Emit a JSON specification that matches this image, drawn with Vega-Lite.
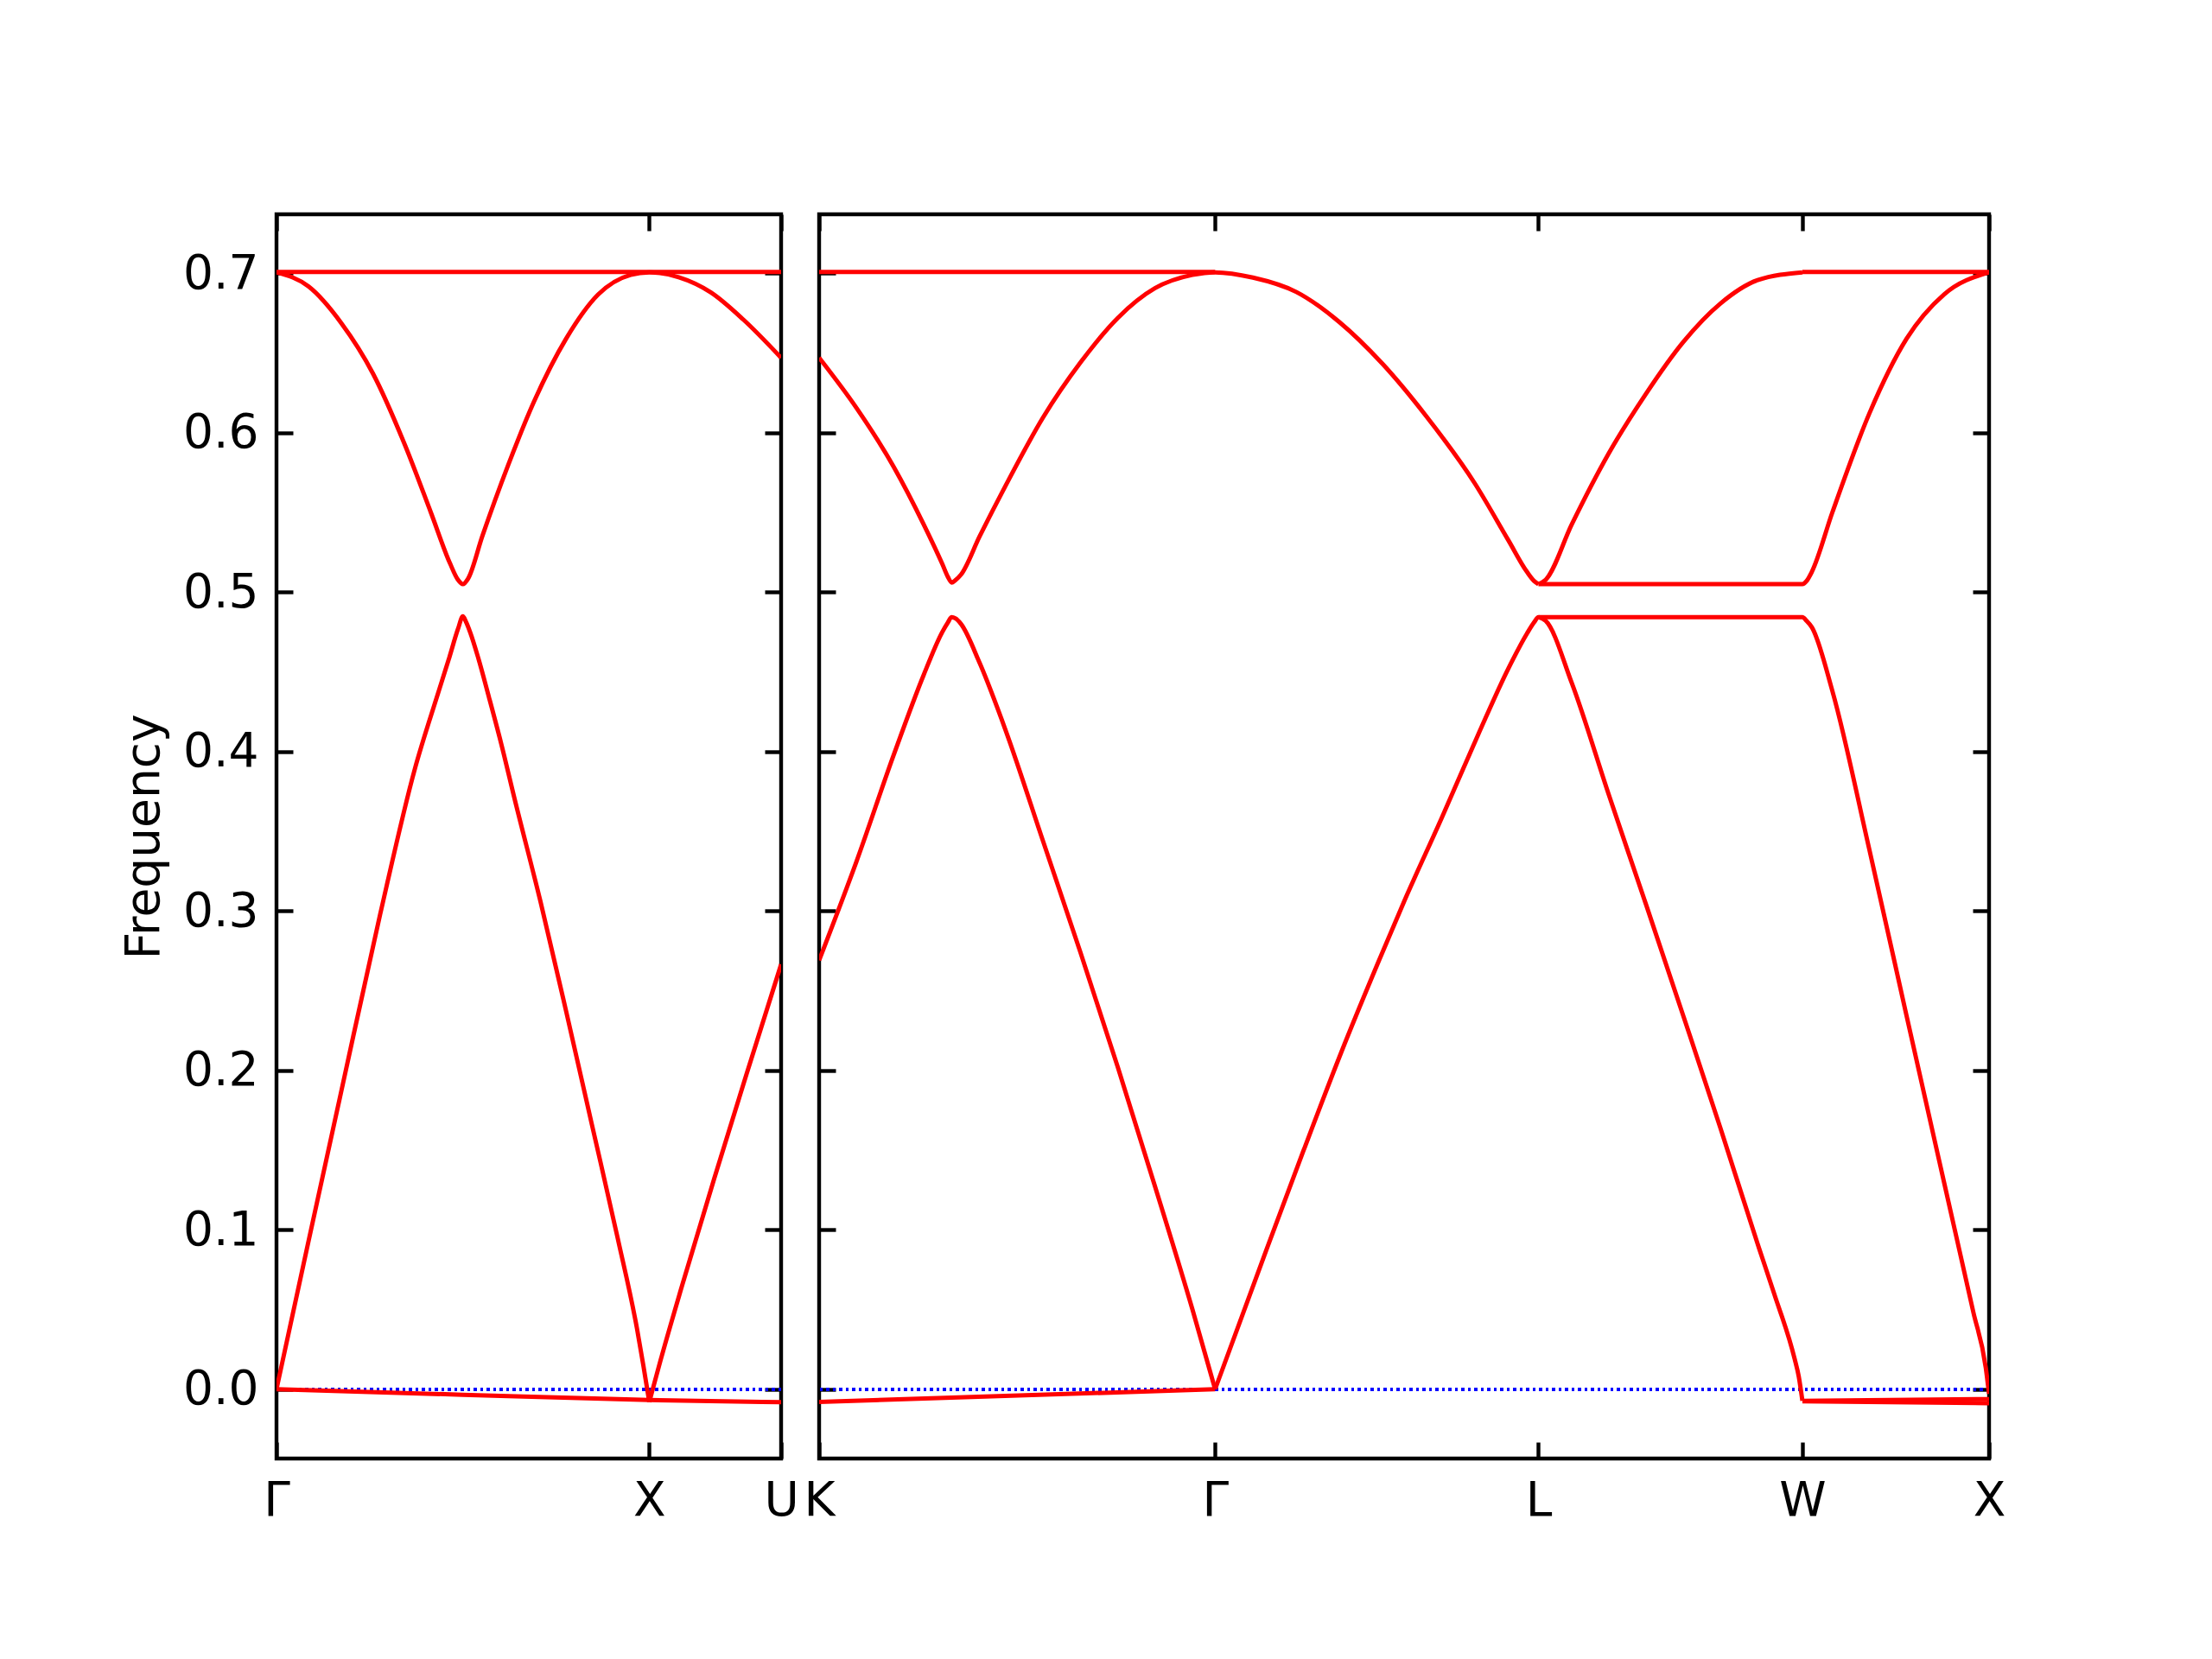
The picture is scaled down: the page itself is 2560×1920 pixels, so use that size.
{
  "$schema": "https://vega.github.io/schema/vega-lite/v6.json",
  "autosize": {"type": "none"},
  "padding": {"left": 320, "top": 248, "right": 2240, "bottom": 1672},
  "background": "white",
  "config": {
    "font": "DejaVu Sans",
    "view": {"stroke": "black", "strokeWidth": 4.4},
    "axis": {
      "domain": false, "grid": false, "tickColor": "black", "tickWidth": 4.4, "tickSize": -19,
      "labelFont": "DejaVu Sans", "labelFontSize": 55, "labelColor": "black",
      "titleFont": "DejaVu Sans", "titleFontSize": 55, "titleFontWeight": "normal", "titleColor": "black",
      "labelPadding": 40
    }
  },
  "datasets": {
    "left": [
      {"s": "D", "k": 0, "f": 0.7008}, {"s": "D", "k": 1.3536, "f": 0.7008},
      {"s": "C", "k": 0, "f": 0.7006}, {"s": "C", "k": 0.086, "f": 0.6917}, {"s": "C", "k": 0.173, "f": 0.669}, {"s": "C", "k": 0.259, "f": 0.637}, {"s": "C", "k": 0.345, "f": 0.592}, {"s": "C", "k": 0.414, "f": 0.55}, {"s": "C", "k": 0.466, "f": 0.5177}, {"s": "C", "k": 0.486, "f": 0.508}, {"s": "C", "k": 0.5, "f": 0.505}, {"s": "C", "k": 0.514, "f": 0.5085}, {"s": "C", "k": 0.552, "f": 0.535}, {"s": "C", "k": 0.622, "f": 0.58}, {"s": "C", "k": 0.691, "f": 0.6196}, {"s": "C", "k": 0.777, "f": 0.659}, {"s": "C", "k": 0.863, "f": 0.6867}, {"s": "C", "k": 0.95, "f": 0.699}, {"s": "C", "k": 1.0, "f": 0.7006}, {"s": "C", "k": 1.079, "f": 0.6975}, {"s": "C", "k": 1.165, "f": 0.688}, {"s": "C", "k": 1.252, "f": 0.671}, {"s": "C", "k": 1.3536, "f": 0.647},
      {"s": "B", "k": 0, "f": 0}, {"s": "B", "k": 0.086, "f": 0.093}, {"s": "B", "k": 0.173, "f": 0.186}, {"s": "B", "k": 0.278, "f": 0.2978}, {"s": "B", "k": 0.371, "f": 0.389}, {"s": "B", "k": 0.4327, "f": 0.436}, {"s": "B", "k": 0.4636, "f": 0.459}, {"s": "B", "k": 0.487, "f": 0.477}, {"s": "B", "k": 0.5, "f": 0.4848}, {"s": "B", "k": 0.508, "f": 0.4815}, {"s": "B", "k": 0.52, "f": 0.4745}, {"s": "B", "k": 0.5408, "f": 0.459}, {"s": "B", "k": 0.57, "f": 0.434}, {"s": "B", "k": 0.6027, "f": 0.405}, {"s": "B", "k": 0.639, "f": 0.37}, {"s": "B", "k": 0.708, "f": 0.306}, {"s": "B", "k": 0.777, "f": 0.237}, {"s": "B", "k": 0.846, "f": 0.166}, {"s": "B", "k": 0.915, "f": 0.095}, {"s": "B", "k": 0.967, "f": 0.038}, {"s": "B", "k": 0.984, "f": 0.015}, {"s": "B", "k": 1.0, "f": -0.008},
      {"s": "B2", "k": 1.0, "f": -0.008}, {"s": "B2", "k": 1.027, "f": 0.0154}, {"s": "B2", "k": 1.088, "f": 0.065}, {"s": "B2", "k": 1.174, "f": 0.132}, {"s": "B2", "k": 1.26, "f": 0.197}, {"s": "B2", "k": 1.3536, "f": 0.2665},
      {"s": "A", "k": 0, "f": 0}, {"s": "A", "k": 0.5, "f": -0.0035}, {"s": "A", "k": 1.0, "f": -0.0068}, {"s": "A", "k": 1.3536, "f": -0.0082}
    ],
    "right": [
      {"s": "D1", "k": 0, "f": 0.7008}, {"s": "D1", "k": 1.0607, "f": 0.7008},
      {"s": "D2", "k": 2.6338, "f": 0.7008}, {"s": "D2", "k": 3.1338, "f": 0.7008},
      {"s": "C1", "k": 0, "f": 0.647}, {"s": "C1", "k": 0.1, "f": 0.6155}, {"s": "C1", "k": 0.2, "f": 0.5785}, {"s": "C1", "k": 0.28, "f": 0.5425}, {"s": "C1", "k": 0.33, "f": 0.5176}, {"s": "C1", "k": 0.345, "f": 0.5095}, {"s": "C1", "k": 0.355, "f": 0.506}, {"s": "C1", "k": 0.365, "f": 0.5075}, {"s": "C1", "k": 0.38, "f": 0.511}, {"s": "C1", "k": 0.43, "f": 0.535}, {"s": "C1", "k": 0.5, "f": 0.567}, {"s": "C1", "k": 0.6, "f": 0.6096}, {"s": "C1", "k": 0.7, "f": 0.644}, {"s": "C1", "k": 0.8, "f": 0.672}, {"s": "C1", "k": 0.9, "f": 0.6907}, {"s": "C1", "k": 1.0, "f": 0.699}, {"s": "C1", "k": 1.0607, "f": 0.7006}, {"s": "C1", "k": 1.162, "f": 0.6973}, {"s": "C1", "k": 1.278, "f": 0.6883}, {"s": "C1", "k": 1.3935, "f": 0.6694}, {"s": "C1", "k": 1.509, "f": 0.6432}, {"s": "C1", "k": 1.625, "f": 0.6107}, {"s": "C1", "k": 1.756, "f": 0.5683}, {"s": "C1", "k": 1.846, "f": 0.5326}, {"s": "C1", "k": 1.896, "f": 0.5127}, {"s": "C1", "k": 1.915, "f": 0.507}, {"s": "C1", "k": 1.9267, "f": 0.505},
      {"s": "C2", "k": 1.9267, "f": 0.505}, {"s": "C2", "k": 1.946, "f": 0.5077}, {"s": "C2", "k": 2.016, "f": 0.5425}, {"s": "C2", "k": 2.115, "f": 0.587}, {"s": "C2", "k": 2.215, "f": 0.6245}, {"s": "C2", "k": 2.315, "f": 0.657}, {"s": "C2", "k": 2.414, "f": 0.681}, {"s": "C2", "k": 2.514, "f": 0.6957}, {"s": "C2", "k": 2.6338, "f": 0.7006},
      {"s": "E", "k": 1.9267, "f": 0.505}, {"s": "E", "k": 2.6338, "f": 0.505}, {"s": "E", "k": 2.645, "f": 0.507}, {"s": "E", "k": 2.659, "f": 0.5127}, {"s": "E", "k": 2.714, "f": 0.55}, {"s": "E", "k": 2.813, "f": 0.612}, {"s": "E", "k": 2.913, "f": 0.659}, {"s": "E", "k": 3.013, "f": 0.6867}, {"s": "E", "k": 3.1338, "f": 0.7006},
      {"s": "B1", "k": 0, "f": 0.269}, {"s": "B1", "k": 0.1, "f": 0.331}, {"s": "B1", "k": 0.2, "f": 0.398}, {"s": "B1", "k": 0.28, "f": 0.448}, {"s": "B1", "k": 0.33, "f": 0.475}, {"s": "B1", "k": 0.345, "f": 0.481}, {"s": "B1", "k": 0.355, "f": 0.4843}, {"s": "B1", "k": 0.365, "f": 0.4835}, {"s": "B1", "k": 0.38, "f": 0.48}, {"s": "B1", "k": 0.43, "f": 0.4555}, {"s": "B1", "k": 0.5, "f": 0.413}, {"s": "B1", "k": 0.6, "f": 0.3436}, {"s": "B1", "k": 0.7, "f": 0.274}, {"s": "B1", "k": 0.8, "f": 0.202}, {"s": "B1", "k": 0.9, "f": 0.127}, {"s": "B1", "k": 1.0, "f": 0.05}, {"s": "B1", "k": 1.0607, "f": 0},
      {"s": "B2", "k": 1.0607, "f": 0}, {"s": "B2", "k": 1.199, "f": 0.088}, {"s": "B2", "k": 1.298, "f": 0.15}, {"s": "B2", "k": 1.398, "f": 0.211}, {"s": "B2", "k": 1.498, "f": 0.268}, {"s": "B2", "k": 1.567, "f": 0.306}, {"s": "B2", "k": 1.667, "f": 0.358}, {"s": "B2", "k": 1.766, "f": 0.411}, {"s": "B2", "k": 1.846, "f": 0.452}, {"s": "B2", "k": 1.896, "f": 0.474}, {"s": "B2", "k": 1.915, "f": 0.481}, {"s": "B2", "k": 1.9267, "f": 0.4843}, {"s": "B2", "k": 2.6338, "f": 0.4843}, {"s": "B2", "k": 2.645, "f": 0.482}, {"s": "B2", "k": 2.659, "f": 0.478}, {"s": "B2", "k": 2.714, "f": 0.438}, {"s": "B2", "k": 2.813, "f": 0.3386}, {"s": "B2", "k": 2.913, "f": 0.234}, {"s": "B2", "k": 3.013, "f": 0.13}, {"s": "B2", "k": 3.092, "f": 0.048}, {"s": "B2", "k": 3.125, "f": 0.0135}, {"s": "B2", "k": 3.1338, "f": -0.003},
      {"s": "B3", "k": 1.9267, "f": 0.4843}, {"s": "B3", "k": 1.946, "f": 0.482}, {"s": "B3", "k": 2.016, "f": 0.443}, {"s": "B3", "k": 2.115, "f": 0.373}, {"s": "B3", "k": 2.215, "f": 0.304}, {"s": "B3", "k": 2.315, "f": 0.234}, {"s": "B3", "k": 2.414, "f": 0.164}, {"s": "B3", "k": 2.514, "f": 0.091}, {"s": "B3", "k": 2.558, "f": 0.06}, {"s": "B3", "k": 2.613, "f": 0.019}, {"s": "B3", "k": 2.624, "f": 0.008}, {"s": "B3", "k": 2.6338, "f": -0.0073},
      {"s": "B4", "k": 2.6338, "f": -0.0073}, {"s": "B4", "k": 3.1338, "f": -0.0062},
      {"s": "A1", "k": 0, "f": -0.008}, {"s": "A1", "k": 1.0607, "f": 0},
      {"s": "A2", "k": 2.6338, "f": -0.0076}, {"s": "A2", "k": 3.1338, "f": -0.0088}
    ]
  },
  "spacing": 44,
  "bounds": "flush",
  "hconcat": [
    {
      "width": 584, "height": 1440,
      "data": {"name": "left"},
      "layer": [
        {
          "mark": {"type": "rule", "color": "#0000ff", "strokeWidth": 2.8, "strokeDash": [3, 4.5]},
          "encoding": {"y": {"datum": 0, "type": "quantitative", "scale": {"domain": [-0.0435, 0.737], "nice": false, "zero": false}, "axis": null}}
        },
        {
          "mark": {"type": "line", "color": "#ff0000", "strokeWidth": 5, "clip": true, "interpolate": "monotone"},
          "encoding": {
            "x": {"field": "k", "type": "quantitative", "scale": {"domain": [0, 1.3536], "nice": false, "zero": false},
                  "axis": {"orient": "bottom", "values": [0, 1, 1.3536], "labelExpr": "datum.value < 0.5 ? 'Γ' : datum.value < 1.2 ? 'X' : 'U'", "title": null, "labelFlush": false, "labelOverlap": false, "labelPadding": 41}},
            "y": {"field": "f", "type": "quantitative", "scale": {"domain": [-0.0435, 0.737], "nice": false, "zero": false},
                  "axis": {"orient": "left", "values": [0, 0.1, 0.2, 0.3, 0.4, 0.5, 0.6, 0.7], "format": ".1f", "title": "Frequency", "titlePadding": 16}},
            "detail": {"field": "s"}
          }
        },
        {
          "mark": {"type": "point", "opacity": 0},
          "encoding": {
            "x": {"field": "k", "type": "quantitative", "axis": {"orient": "top", "values": [0, 1, 1.3536], "labels": false, "title": null}},
            "y": {"field": "f", "type": "quantitative", "axis": {"orient": "right", "values": [0, 0.1, 0.2, 0.3, 0.4, 0.5, 0.6, 0.7], "labels": false, "title": null}}
          }
        }
      ],
      "resolve": {"axis": {"x": "independent", "y": "independent"}}
    },
    {
      "width": 1354, "height": 1440,
      "data": {"name": "right"},
      "layer": [
        {
          "mark": {"type": "rule", "color": "#0000ff", "strokeWidth": 2.8, "strokeDash": [3, 4.5]},
          "encoding": {"y": {"datum": 0, "type": "quantitative", "scale": {"domain": [-0.0435, 0.737], "nice": false, "zero": false}, "axis": null}}
        },
        {
          "mark": {"type": "line", "color": "#ff0000", "strokeWidth": 5, "clip": true, "interpolate": "monotone"},
          "encoding": {
            "x": {"field": "k", "type": "quantitative", "scale": {"domain": [0, 3.1338], "nice": false, "zero": false},
                  "axis": {"orient": "bottom", "values": [0, 1.0607, 1.9267, 2.6338, 3.1338], "labelExpr": "datum.value < 0.5 ? 'K' : datum.value < 1.5 ? 'Γ' : datum.value < 2.3 ? 'L' : datum.value < 2.9 ? 'W' : 'X'", "title": null, "labelFlush": false, "labelOverlap": false, "labelPadding": 41}},
            "y": {"field": "f", "type": "quantitative", "scale": {"domain": [-0.0435, 0.737], "nice": false, "zero": false},
                  "axis": {"orient": "left", "values": [0, 0.1, 0.2, 0.3, 0.4, 0.5, 0.6, 0.7], "labels": false, "title": null}},
            "detail": {"field": "s"}
          }
        },
        {
          "mark": {"type": "point", "opacity": 0},
          "encoding": {
            "x": {"field": "k", "type": "quantitative", "axis": {"orient": "top", "values": [0, 1.0607, 1.9267, 2.6338, 3.1338], "labels": false, "title": null}},
            "y": {"field": "f", "type": "quantitative", "axis": {"orient": "right", "values": [0, 0.1, 0.2, 0.3, 0.4, 0.5, 0.6, 0.7], "labels": false, "title": null}}
          }
        }
      ],
      "resolve": {"axis": {"x": "independent", "y": "independent"}}
    }
  ]
}
